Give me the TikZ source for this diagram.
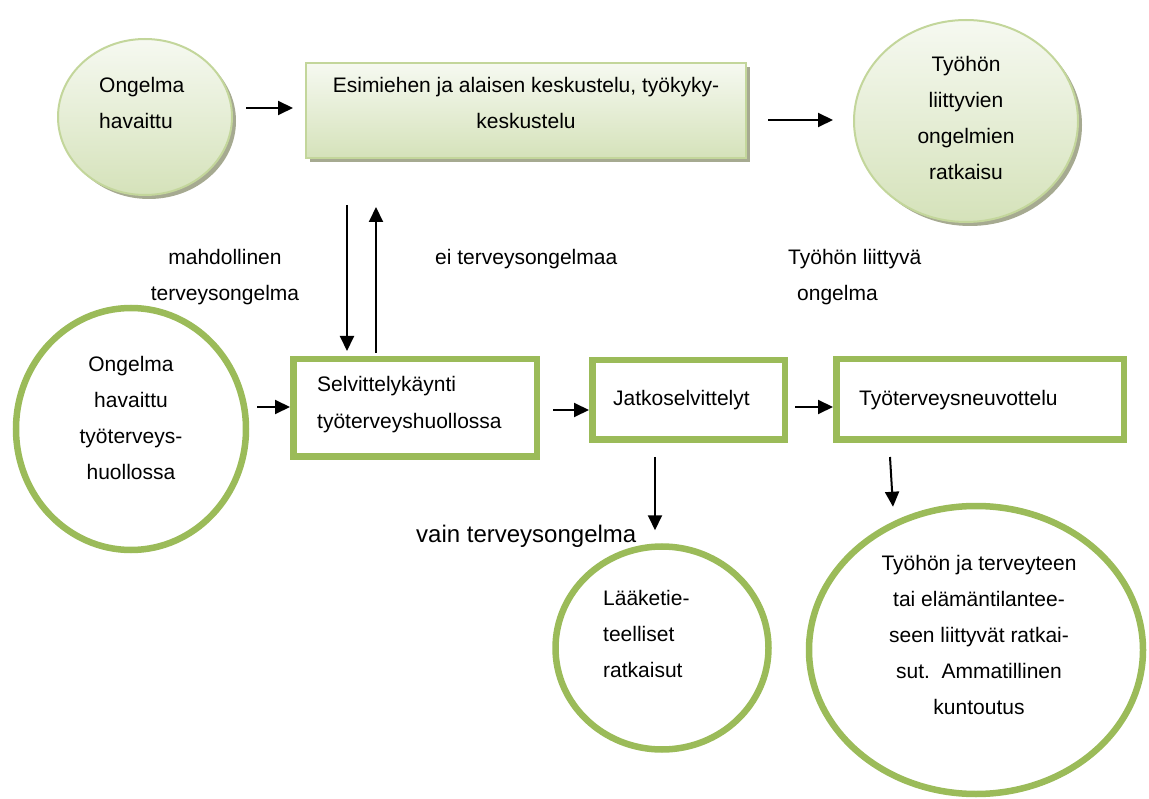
\documentclass[tikz,border=0pt]{standalone}
\usepackage{fontspec}
\setmainfont{Liberation Sans}
\usetikzlibrary{arrows.meta,shapes.geometric,shadows}

% stacked lines whose first baseline is the node's base
\newcommand\stk[2]{\begin{tabular}[t]{@{}#1@{}}#2\end{tabular}}

\definecolor{softedge}{RGB}{195,214,155}
\definecolor{softtop}{RGB}{246,249,241}
\definecolor{softbottom}{RGB}{213,226,186}
\definecolor{softshadow}{RGB}{166,170,145}
\definecolor{leaf}{RGB}{155,187,89}

\tikzset{
  softshape/.style={draw=softedge, line width=2pt, inner sep=0pt,
    top color=softtop, bottom color=softbottom,
    drop shadow={shadow xshift=4pt, shadow yshift=-4pt, fill=softshadow, opacity=1}},
  softbox/.style={softshape, rectangle},
  softround/.style={softshape, ellipse},
  leafbox/.style={draw=leaf, line width=6.5pt, fill=white, rectangle, inner sep=0pt},
  leafround/.style={draw=leaf, line width=6.5pt, fill=white, ellipse, inner sep=0pt},
  arr/.style={line width=2pt, -{Triangle[length=15pt,width=14pt]}},
  txt/.style={inner sep=0pt, font=\fontsize{21}{36}\selectfont},
  bigtxt/.style={inner sep=0pt, font=\fontsize{24}{36}\selectfont}
}

\begin{document}
\begin{tikzpicture}[x=1pt, y=-1pt]
\useasboundingbox (0,0) rectangle (1149,799);

% upper row: line manager route
\node[softround, minimum width=174pt, minimum height=156pt] (c1) at (145,117) {};
\node[softbox, minimum width=440pt, minimum height=95pt] (box1) at (526,110.5) {};
\node[softround, minimum width=224pt, minimum height=202pt] (c2) at (966,121) {};

% lower row: occupational health care route
\node[leafround, minimum width=230pt, minimum height=242pt] (c3) at (131,429) {};
\node[leafbox, minimum width=243.5pt, minimum height=97.5pt] (box2) at (415,408) {};
\node[leafbox, minimum width=192.5pt, minimum height=79.5pt] (box3) at (688.5,400) {};
\node[leafbox, minimum width=287.5pt, minimum height=80.5pt] (box4) at (980,399.5) {};
\node[leafround, minimum width=213pt, minimum height=203pt] (c4) at (662,648) {};
\node[leafround, minimum width=334pt, minimum height=288pt] (c5) at (976,650) {};

% texts
\node[txt, anchor=base west] (t1) at (99,93) {\stk{l}{Ongelma\\havaittu}};
\node[txt, anchor=base] (t2) at (526,93) {\stk{c}{Esimiehen ja alaisen keskustelu, työkyky-\\keskustelu}};
\node[txt, anchor=base] (t3) at (966,72) {\stk{c}{Työhön\\liittyvien\\ongelmien\\ratkaisu}};
\node[txt, anchor=base] (t4) at (225,265) {\stk{c}{mahdollinen\\terveysongelma}};
\node[txt, anchor=base west] (t5) at (435,265) {ei terveysongelmaa};
\node[txt, anchor=base west] (t6) at (788,265) {\stk{l}{Työhön liittyvä\\\hspace{9pt}ongelma}};
\node[txt, anchor=base] (t7) at (131,372) {\stk{c}{Ongelma\\havaittu\\työterveys-\\huollossa}};
\node[txt, anchor=base west] (t8) at (317,392) {\stk{l}{Selvittelykäynti\\työterveyshuollossa}};
\node[txt, anchor=base west] (t9) at (613,406) {Jatkoselvittelyt};
\node[txt, anchor=base west] (t10) at (859,406) {Työterveysneuvottelu};
\node[bigtxt, anchor=base west] (t11) at (416,542) {vain terveysongelma};
\node[txt, anchor=base west] (t12) at (603,605) {\stk{l}{Lääketie-\\teelliset\\ratkaisut}};
\node[txt, anchor=base] (t13) at (979,570) {\stk{c}{Työhön ja terveyteen\\tai elämäntilantee-\\seen liittyvät ratkai-\\sut.\ \ Ammatillinen\\kuntoutus}};

% arrow start points
\coordinate (a1) at ([shift={(13,-9)}]c1.east);
\coordinate (a2) at ([shift={(21,9.5)}]box1.east);
\coordinate (a3) at ([shift={(-179,46)}]box1.south);
\coordinate (a4) at ([shift={(-39,-3)}]box2.north);
\coordinate (a5) at ([shift={(8,-22)}]c3.east);
\coordinate (a6) at ([shift={(13,2)}]box2.east);
\coordinate (a7) at ([shift={(-33.5,14)}]box3.south);
\coordinate (a8) at ([shift={(7,7)}]box3.east);
\coordinate (a9) at ([shift={(-90,14)}]box4.south);
\coordinate (e9) at ([shift={(-83,4)}]c5.north);

% connectors
\draw[arr, shorten >=12pt] (a1) -- (a1 -| box1.west);
\draw[arr, shorten >=20pt] (a2) -- (a2 -| c2.west);
\draw[arr, shorten >=5pt] (a3) -- (a3 |- box2.north);
\draw[arr, shorten >=48pt] (a4) -- (a4 |- box1.south);
\draw[arr] (a5) -- (a5 -| box2.west);
\draw[arr] (a6) -- (a6 -| box3.west);
\draw[arr, shorten >=13pt] (a7) -- (a7 |- c4.north);
\draw[arr] (a8) -- (a8 -| box4.west);
\draw[arr] (a9) -- (e9);
\end{tikzpicture}
\end{document}
